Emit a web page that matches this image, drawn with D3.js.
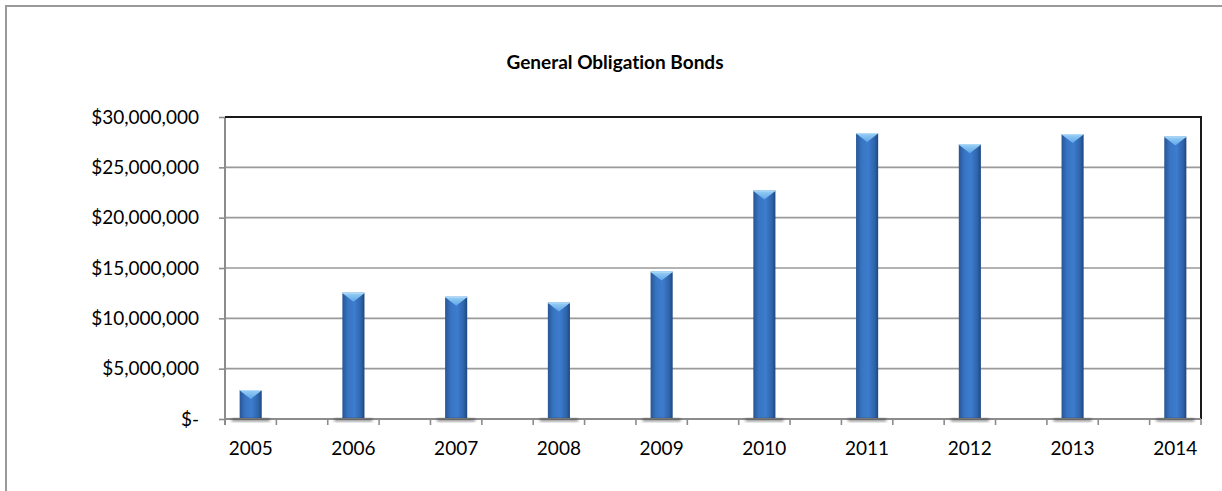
<!DOCTYPE html>
<html>
<head>
<meta charset="utf-8">
<script src="https://cdn.jsdelivr.net/npm/d3@7"></script>
<style>
  html, body { margin: 0; padding: 0; background: #fff; }
  svg { display: block; }
  text { font-family: Lato, "Open Sans", sans-serif; fill: #000; font-variant-ligatures: none; }
</style>
</head>
<body>
<svg id="chart" width="1222" height="491"></svg>
<script>
// ---- data ----
const title = "General Obligation Bonds";
const years = ["2005","2006","2007","2008","2009","2010","2011","2012","2013","2014"];
const values = [2880000, 12550000, 12150000, 11580000, 14640000, 22700000, 28400000, 27300000, 28300000, 28060000];
const yTicks = [0, 5000000, 10000000, 15000000, 20000000, 25000000, 30000000];

// categories: each year followed by an empty slot (Excel layout)
const categories = [];
years.forEach((y, i) => { categories.push(y); if (i < years.length - 1) categories.push("gap" + i); });

const svg = d3.select("#chart");
const defs = svg.append("defs");

const L = 225, R = 1201, T = 117, B = 419;

// outer chart border
svg.append("rect").attr("x", 6).attr("y", 6).attr("width", 1240).attr("height", 520)
  .attr("fill", "#fff").attr("stroke", "#9a9a9a").attr("stroke-width", 2);

// title
svg.append("text").attr("x", 615).attr("y", 69).attr("text-anchor", "middle")
  .attr("font-size", 19).attr("font-weight", "bold").text(title);

const x = d3.scaleBand().domain(categories).range([L, R]).paddingInner(0.57).paddingOuter(0.285);
const y = d3.scaleLinear().domain([0, 30000000]).range([B, T]);

// gridlines
svg.append("g").selectAll("line").data(yTicks.filter(v => v > 0 && v < 30000000)).join("line")
  .attr("x1", L).attr("x2", R).attr("y1", d => y(d)).attr("y2", d => y(d))
  .attr("stroke", "#9a9a9a").attr("stroke-width", 1.6);

// y axis
const fmt = d => d === 0 ? "$-" : "$" + d3.format(",")(d);
const yAxis = d3.axisLeft(y).tickValues(yTicks).tickFormat(fmt).tickSize(6).tickPadding(20);
const gy = svg.append("g").attr("transform", `translate(${L},0)`).call(yAxis);
gy.select(".domain").attr("stroke", "#8c8c8c").attr("stroke-width", 2).attr("d", `M0,${T}V${B + 6}`);
gy.selectAll(".tick line").attr("stroke", "#8c8c8c").attr("stroke-width", 1.6);
gy.selectAll(".tick text").attr("font-size", 19).attr("font-family", "Lato, sans-serif").attr("fill", "#000");

// plot border top and right (black)
svg.append("line").attr("x1", L).attr("x2", R + 1).attr("y1", T).attr("y2", T)
  .attr("stroke", "#1a1a1a").attr("stroke-width", 2);
svg.append("line").attr("x1", R).attr("x2", R).attr("y1", T).attr("y2", B)
  .attr("stroke", "#1a1a1a").attr("stroke-width", 2);

// gradients
const grad = defs.append("linearGradient").attr("id", "barGrad").attr("x1", "0").attr("x2", "1").attr("y1", "0").attr("y2", "0");
grad.append("stop").attr("offset", "0%").attr("stop-color", "#275596");
grad.append("stop").attr("offset", "25%").attr("stop-color", "#3874c2");
grad.append("stop").attr("offset", "55%").attr("stop-color", "#3d7cce");
grad.append("stop").attr("offset", "85%").attr("stop-color", "#2e63a9");
grad.append("stop").attr("offset", "100%").attr("stop-color", "#1d467f");

const capGrad = defs.append("linearGradient").attr("id", "capGrad").attr("x1", "0").attr("x2", "0").attr("y1", "0").attr("y2", "1");
capGrad.append("stop").attr("offset", "0%").attr("stop-color", "#9ad0f5");
capGrad.append("stop").attr("offset", "100%").attr("stop-color", "#5fa6e9");

const blur = defs.append("filter").attr("id", "soft").attr("x", "-50%").attr("y", "-100%").attr("width", "200%").attr("height", "300%");
blur.append("feGaussianBlur").attr("stdDeviation", 1.5);

const data = years.map((yr, i) => ({ yr, v: values[i] }));
const bw = x.bandwidth();

// bars
const bars = svg.append("g");
bars.selectAll("rect").data(data).join("rect")
  .attr("x", d => x(d.yr)).attr("width", bw)
  .attr("y", d => y(d.v)).attr("height", d => B - y(d.v))
  .attr("fill", "url(#barGrad)");

// top chevron caps
bars.selectAll("path.cap").data(data).join("path").attr("class", "cap")
  .attr("d", d => {
    const x0 = x(d.yr), x1 = x0 + bw, t = y(d.v);
    const h = Math.min(9, B - t);
    return `M${x0},${t}L${x1},${t}L${x1 - 2},${t + 2}L${x0 + bw / 2},${t + h}L${x0 + 2},${t + 2}Z`;
  })
  .attr("fill", "url(#capGrad)");
bars.selectAll("line.rim").data(data).join("line").attr("class", "rim")
  .attr("x1", d => x(d.yr)).attr("x2", d => x(d.yr) + bw)
  .attr("y1", d => y(d.v) + 0.5).attr("y2", d => y(d.v) + 0.5)
  .attr("stroke", "#b3dcf8").attr("stroke-width", 1);

// x axis
svg.append("line").attr("x1", L).attr("x2", R).attr("y1", B).attr("y2", B)
  .attr("stroke", "#8c8c8c").attr("stroke-width", 2);

// bottom shadows under bars
svg.append("g").selectAll("rect").data(data).join("rect")
  .attr("x", d => x(d.yr) - 8).attr("width", bw + 16)
  .attr("y", B).attr("height", 2)
  .attr("fill", "#333").attr("opacity", 0.8).attr("filter", "url(#soft)");

const step = x.step();
const boundaries = d3.range(categories.length + 1).map(i => x.range()[0] + i * step);
svg.append("g").selectAll("line").data(boundaries).join("line")
  .attr("x1", d => d).attr("x2", d => d).attr("y1", B).attr("y2", B + 6)
  .attr("stroke", "#8c8c8c").attr("stroke-width", 1.6);
svg.append("g").selectAll("text").data(years).join("text")
  .attr("x", d => x(d) + bw / 2).attr("y", 455).attr("text-anchor", "middle")
  .attr("font-size", 19).text(d => d);
</script>
</body>
</html>
